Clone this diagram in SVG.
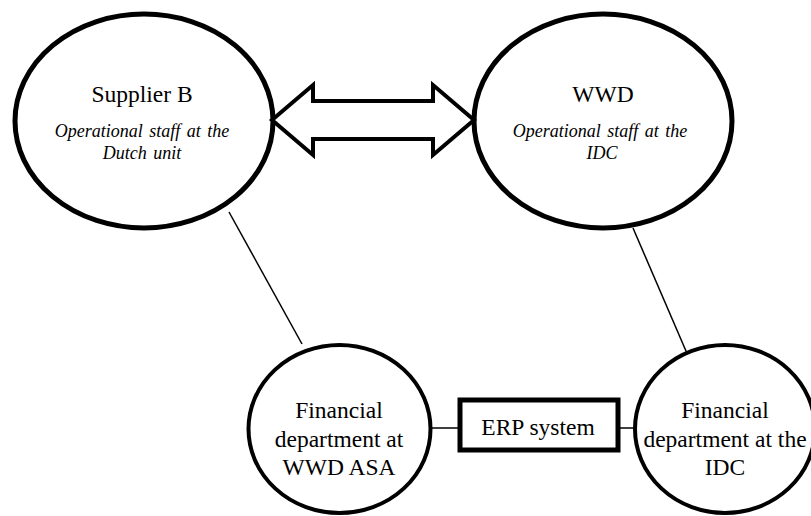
<svg xmlns="http://www.w3.org/2000/svg" width="811" height="516" viewBox="0 0 811 516">
  <style>
    .big { fill: #fff; stroke: #000; stroke-width: 5; }
    .small { fill: #fff; stroke: #000; stroke-width: 4; }
    .box { fill: #fff; stroke: #000; stroke-width: 5; }
    .link { stroke: #000; stroke-width: 1.5; fill: none; }
    .arrow { fill: #fff; stroke: #000; stroke-width: 4; stroke-linejoin: miter; }
    .lbl { font-family: 'Times New Roman', 'Liberation Serif', Tinos, 'DejaVu Serif', serif; font-style: normal; font-weight: 400; text-anchor: middle; fill: #000; stroke: none; }
    .title { font-size: 23.5px; }
    .sub { font-size: 18px; font-style: italic; word-spacing: 2px; }
  </style>
  <rect width="811" height="516" fill="#fff"/>

  <!-- connectors -->
  <g id="connectors">
    <line class="link" x1="229" y1="212" x2="302" y2="344"/>
    <line class="link" x1="633" y1="228" x2="689" y2="358"/>
    <line class="link" x1="432" y1="428" x2="460" y2="428"/>
    <line class="link" x1="618" y1="428" x2="635" y2="428"/>
  </g>

  <g id="supplier-b">
    <ellipse class="big" cx="144" cy="121" rx="129" ry="107"/>
    <text class="lbl title" x="142" y="102">Supplier B</text>
    <text class="lbl sub" x="142" y="137">Operational staff at the</text>
    <text class="lbl sub" x="142" y="159">Dutch unit</text>
  </g>

  <g id="wwd">
    <ellipse class="big" cx="603" cy="121" rx="129" ry="107"/>
    <text class="lbl title" x="603" y="102">WWD</text>
    <text class="lbl sub" x="600" y="137">Operational staff at the</text>
    <text class="lbl sub" x="602" y="159">IDC</text>
  </g>

  <!-- two-way exchange arrow -->
  <g id="exchange-arrow">
    <polygon class="arrow" points="272,120 313,85 313,101 433,101 433,85 474,120 433,155 433,139 313,139 313,155"/>
  </g>

  <g id="finance-wwd-asa">
    <ellipse class="small" cx="339.5" cy="429" rx="91" ry="84"/>
    <text class="lbl title" x="339" y="418">Financial</text>
    <text class="lbl title" x="339" y="447">department at</text>
    <text class="lbl title" x="339" y="475">WWD ASA</text>
  </g>

  <g id="erp-system">
    <rect class="box" x="460" y="400" width="158" height="50"/>
    <text class="lbl title" x="538" y="435">ERP system</text>
  </g>

  <g id="finance-idc">
    <ellipse class="small" cx="725" cy="429" rx="90" ry="84"/>
    <text class="lbl title" x="725" y="418">Financial</text>
    <text class="lbl title" x="725" y="447">department at the</text>
    <text class="lbl title" x="725" y="475">IDC</text>
  </g>
</svg>
